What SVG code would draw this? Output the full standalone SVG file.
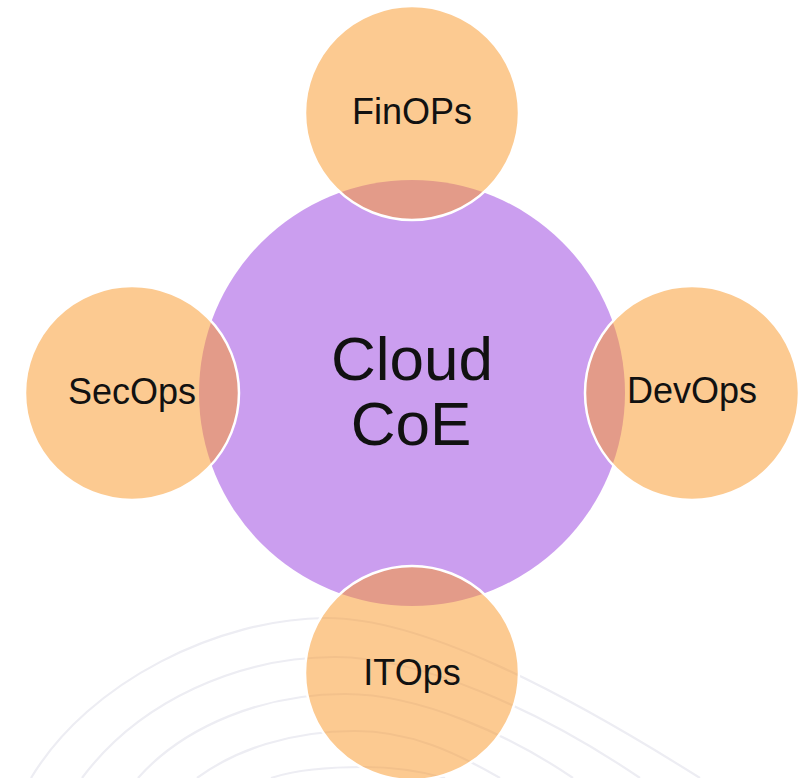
<svg xmlns="http://www.w3.org/2000/svg" width="803" height="778" viewBox="0 0 803 778">
<style>
.arc{fill:none;stroke:#EDEDF3;stroke-width:2.2}
.sat{fill:#F9992D;fill-opacity:0.52;stroke:#FFFFFF;stroke-width:2.5}
.lbl{font-family:"Liberation Sans",Arial,sans-serif;font-size:36px;fill:#111111;text-anchor:middle}
.core{font-family:"Liberation Sans",Arial,sans-serif;font-size:62px;fill:#111111;text-anchor:middle}
</style>
<rect width="803" height="778" fill="#FFFFFF"/>
<g id="background-arcs">
<path class="arc" d="M31,778 C90,680 220,619 325,618 C420,617 560,690 700,778"/>
<path class="arc" d="M82,778 C140,700 240,657 335,657 C420,657 540,710 640,778"/>
<path class="arc" d="M138,778 C185,725 265,694 345,694 C420,694 510,735 573,778"/>
<path class="arc" d="M197,778 C235,750 290,731 355,731 C410,731 455,752 500,778"/>
<path class="arc" d="M271,778 C295,770 330,767 365,767 C395,767 420,771 445,778"/>
</g>
<g id="connectors"></g>
<g id="cloud-coe">
<circle cx="412" cy="393" r="213" fill="#CB9EEF"/>
<text class="core" x="412" y="380">Cloud</text>
<text class="core" x="411" y="445">CoE</text>
</g>
<g id="finops">
<circle class="sat" cx="412" cy="113" r="107"/>
<text class="lbl" x="412" y="124">FinOPs</text>
</g>
<g id="secops">
<circle class="sat" cx="132" cy="393" r="107"/>
<text class="lbl" x="132" y="404">SecOps</text>
</g>
<g id="devops">
<circle class="sat" cx="692" cy="393" r="107"/>
<text class="lbl" x="692" y="403">DevOps</text>
</g>
<g id="itops">
<circle class="sat" cx="412" cy="673" r="107"/>
<text class="lbl" x="412" y="685">ITOps</text>
</g>
</svg>
